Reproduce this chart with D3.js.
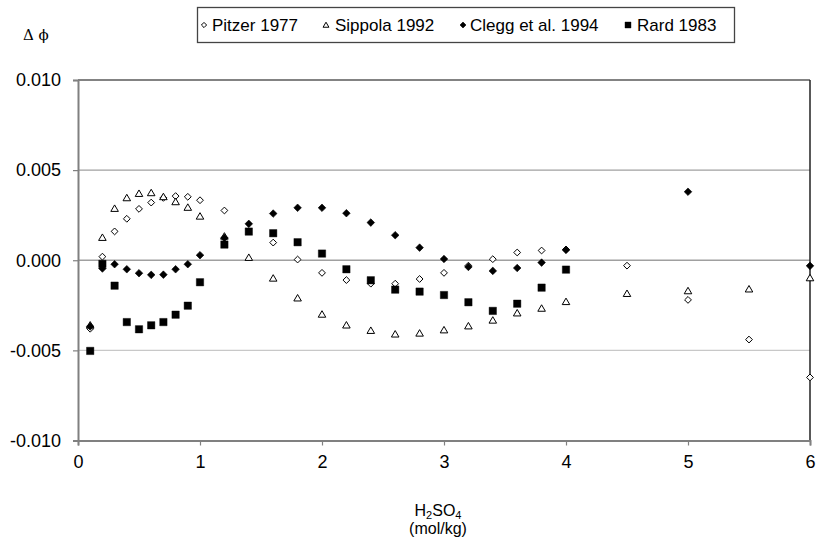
<!DOCTYPE html>
<html>
<head>
<meta charset="utf-8">
<script src="https://cdn.jsdelivr.net/npm/d3@7"></script>
<style>
  html, body { margin: 0; padding: 0; background: #fff; }
  svg { display: block; font-family: "Liberation Sans", Arial, sans-serif; }
</style>
</head>
<body>
<svg id="chart" width="817" height="541"></svg>
<script>
// Molality of H2SO4 (mol/kg) and deviation in osmotic coefficient for each source
const pitzerX = [0.1,0.2,0.3,0.4,0.5,0.6,0.7,0.8,0.9,1.0,1.2,1.6,1.8,2.0,2.2,2.4,2.6,2.8,3.0,3.2,3.4,3.6,3.8,4.0,4.5,5.0,5.5,6.0];
const pitzerY = [-0.0038,0.0002,0.0016,0.0023,0.00285,0.0032,0.00346,0.00356,0.00352,0.00333,0.00276,0.00098,0.00004,-0.0007,-0.0011,-0.0013,-0.0013,-0.00104,-0.0007,-0.0003,0.00006,0.00043,0.00054,0.0006,-0.0003,-0.0022,-0.0044,-0.0065];

const sippolaX = [0.1,0.2,0.3,0.4,0.5,0.6,0.7,0.8,0.9,1.0,1.2,1.4,1.6,1.8,2.0,2.2,2.4,2.6,2.8,3.0,3.2,3.4,3.6,3.8,4.0,4.5,5.0,5.5,6.0];
const sippolaY = [-0.0036,0.00126,0.00287,0.00346,0.0037,0.00374,0.00352,0.00324,0.00293,0.00244,0.00133,0.00015,-0.001,-0.0021,-0.003,-0.0036,-0.0039,-0.0041,-0.00405,-0.00387,-0.00365,-0.00333,-0.00293,-0.00267,-0.0023,-0.00185,-0.0017,-0.0016,-0.00098];

const cleggX = [0.1,0.2,0.3,0.4,0.5,0.6,0.7,0.8,0.9,1.0,1.2,1.4,1.6,1.8,2.0,2.2,2.4,2.6,2.8,3.0,3.2,3.4,3.6,3.8,4.0,5.0,6.0];
const cleggY = [-0.00367,-0.00046,-0.00022,-0.0005,-0.00072,-0.00081,-0.0008,-0.0005,-0.00022,0.00028,0.00124,0.00202,0.00259,0.00291,0.00291,0.00261,0.00209,0.00139,0.0007,0.00007,-0.00037,-0.00059,-0.00043,-0.00013,0.00057,0.0038,-0.00031];

const rardX = [0.1,0.2,0.3,0.4,0.5,0.6,0.7,0.8,0.9,1.0,1.2,1.4,1.6,1.8,2.0,2.2,2.4,2.6,2.8,3.0,3.2,3.4,3.6,3.8,4.0];
const rardY = [-0.00503,-0.0002,-0.00141,-0.00343,-0.00383,-0.00361,-0.00343,-0.00302,-0.00252,-0.00122,0.00087,0.00159,0.0015,0.001,0.00037,-0.0005,-0.00111,-0.00163,-0.00174,-0.00193,-0.00233,-0.00281,-0.00241,-0.00152,-0.00052];

const seriesNames = ["Pitzer 1977", "Sippola 1992", "Clegg et al. 1994", "Rard 1983"];
const xTicks = [0, 1, 2, 3, 4, 5, 6];
const yTicks = [-0.010, -0.005, 0.000, 0.005, 0.010];

const svg = d3.select("#chart");
const plotLeft = 78, plotRight = 810, plotTop = 80, plotBottom = 440.5;

const x = d3.scaleLinear().domain([0, 6]).range([plotLeft, plotRight]);
const y = d3.scaleLinear().domain([-0.010, 0.010]).range([plotBottom, plotTop]);

// Horizontal gridlines
svg.append("g").selectAll("line")
  .data(yTicks.filter(t => t > -0.010 && t < 0.010))
  .join("line")
  .attr("x1", plotLeft).attr("x2", plotRight)
  .attr("y1", d => y(d)).attr("y2", d => y(d))
  .attr("stroke", d => d < 0 ? "#c8c8c8" : "#a0a0a0")
  .attr("stroke-width", 1.3);

// Plot frame: top and right edges
svg.append("line").attr("x1", plotLeft).attr("x2", plotRight).attr("y1", plotTop).attr("y2", plotTop)
  .attr("stroke", "#5a5a5a").attr("stroke-width", 1.5);
svg.append("line").attr("x1", plotRight).attr("x2", plotRight).attr("y1", plotTop).attr("y2", plotBottom)
  .attr("stroke", "#222").attr("stroke-width", 1.5);

// Axes
const yAxis = d3.axisLeft(y).tickValues(yTicks).tickFormat(d3.format(".3f")).tickSize(5).tickPadding(12);
const xAxis = d3.axisBottom(x).tickValues(xTicks).tickFormat(d3.format("d")).tickSize(5).tickPadding(10);

const gy = svg.append("g").attr("transform", `translate(${plotLeft},0)`).call(yAxis);
const gx = svg.append("g").attr("transform", `translate(0,${plotBottom})`).call(xAxis);
[gx, gy].forEach(g => {
  g.select(".domain").attr("stroke", "#808080").attr("stroke-width", 2);
  g.selectAll(".tick line").attr("stroke", "#808080").attr("stroke-width", 1.2);
  g.selectAll(".tick text").attr("fill", "#000").attr("font-size", 18)
    .attr("font-family", "Liberation Sans, Arial, sans-serif");
});
gy.selectAll(".tick text").text(d => d3.format(".3f")(d).replace("−", "-"));

// Marker shapes
const diamond = s => `M0,${-s}L${s},0L0,${s}L${-s},0Z`;
const triangle = s => `M0,${-s}L${s * 1.05},${s * 0.8}L${-s * 1.05},${s * 0.8}Z`;
const square = s => `M${-s},${-s}H${s}V${s}H${-s}Z`;

const styles = [
  { path: diamond(3.4), fill: "#fff", stroke: "#000", sw: 1 },
  { path: triangle(3.6), fill: "#fff", stroke: "#000", sw: 1 },
  { path: diamond(3.8), fill: "#000", stroke: "#000", sw: 0.6 },
  { path: square(3.7), fill: "#000", stroke: "#000", sw: 0.4 }
];
const legendStyles = [
  { path: diamond(2.6), fill: "#fff", stroke: "#000", sw: 1 },
  { path: triangle(2.8), fill: "#fff", stroke: "#000", sw: 1 },
  { path: diamond(3.0), fill: "#000", stroke: "#000", sw: 0.6 },
  { path: square(3.0), fill: "#000", stroke: "#000", sw: 0.4 }
];

const series = [
  { xs: pitzerX, ys: pitzerY },
  { xs: sippolaX, ys: sippolaY },
  { xs: cleggX, ys: cleggY },
  { xs: rardX, ys: rardY }
];

series.forEach((s, i) => {
  const pts = s.xs.map((v, j) => [v, s.ys[j]]);
  svg.append("g").selectAll("path")
    .data(pts)
    .join("path")
    .attr("transform", d => `translate(${x(d[0])},${y(d[1])})`)
    .attr("d", styles[i].path)
    .attr("fill", styles[i].fill)
    .attr("stroke", styles[i].stroke)
    .attr("stroke-width", styles[i].sw);
});

// Legend
const lg = svg.append("g");
lg.append("rect").attr("x", 197.5).attr("y", 7.5).attr("width", 537).attr("height", 35)
  .attr("fill", "#fff").attr("stroke", "#444").attr("stroke-width", 1.3);
const legendMarkX = [204, 326, 463, 628];
const legendTextX = [212, 335, 470, 637];
seriesNames.forEach((name, i) => {
  lg.append("path").attr("transform", `translate(${legendMarkX[i]},${25})`)
    .attr("d", legendStyles[i].path)
    .attr("fill", legendStyles[i].fill).attr("stroke", legendStyles[i].stroke)
    .attr("stroke-width", legendStyles[i].sw);
  lg.append("text").attr("x", legendTextX[i]).attr("y", 31)
    .attr("font-size", 17).attr("fill", "#000").text(name);
});

// Axis titles
svg.append("text").attr("x", 23).attr("y", 40)
  .attr("font-family", "DejaVu Serif, Liberation Serif, serif").attr("font-size", 15)
  .text("Δ ϕ");

const xt = svg.append("text").attr("x", 438).attr("y", 516).attr("text-anchor", "middle")
  .attr("font-size", 16).attr("fill", "#000");
xt.append("tspan").text("H");
xt.append("tspan").attr("font-size", 11).attr("dy", 3).text("2");
xt.append("tspan").attr("dy", -3).text("SO");
xt.append("tspan").attr("font-size", 11).attr("dy", 3).text("4");
svg.append("text").attr("x", 438).attr("y", 534).attr("text-anchor", "middle")
  .attr("font-size", 16).attr("fill", "#000").text("(mol/kg)");
</script>
</body>
</html>
